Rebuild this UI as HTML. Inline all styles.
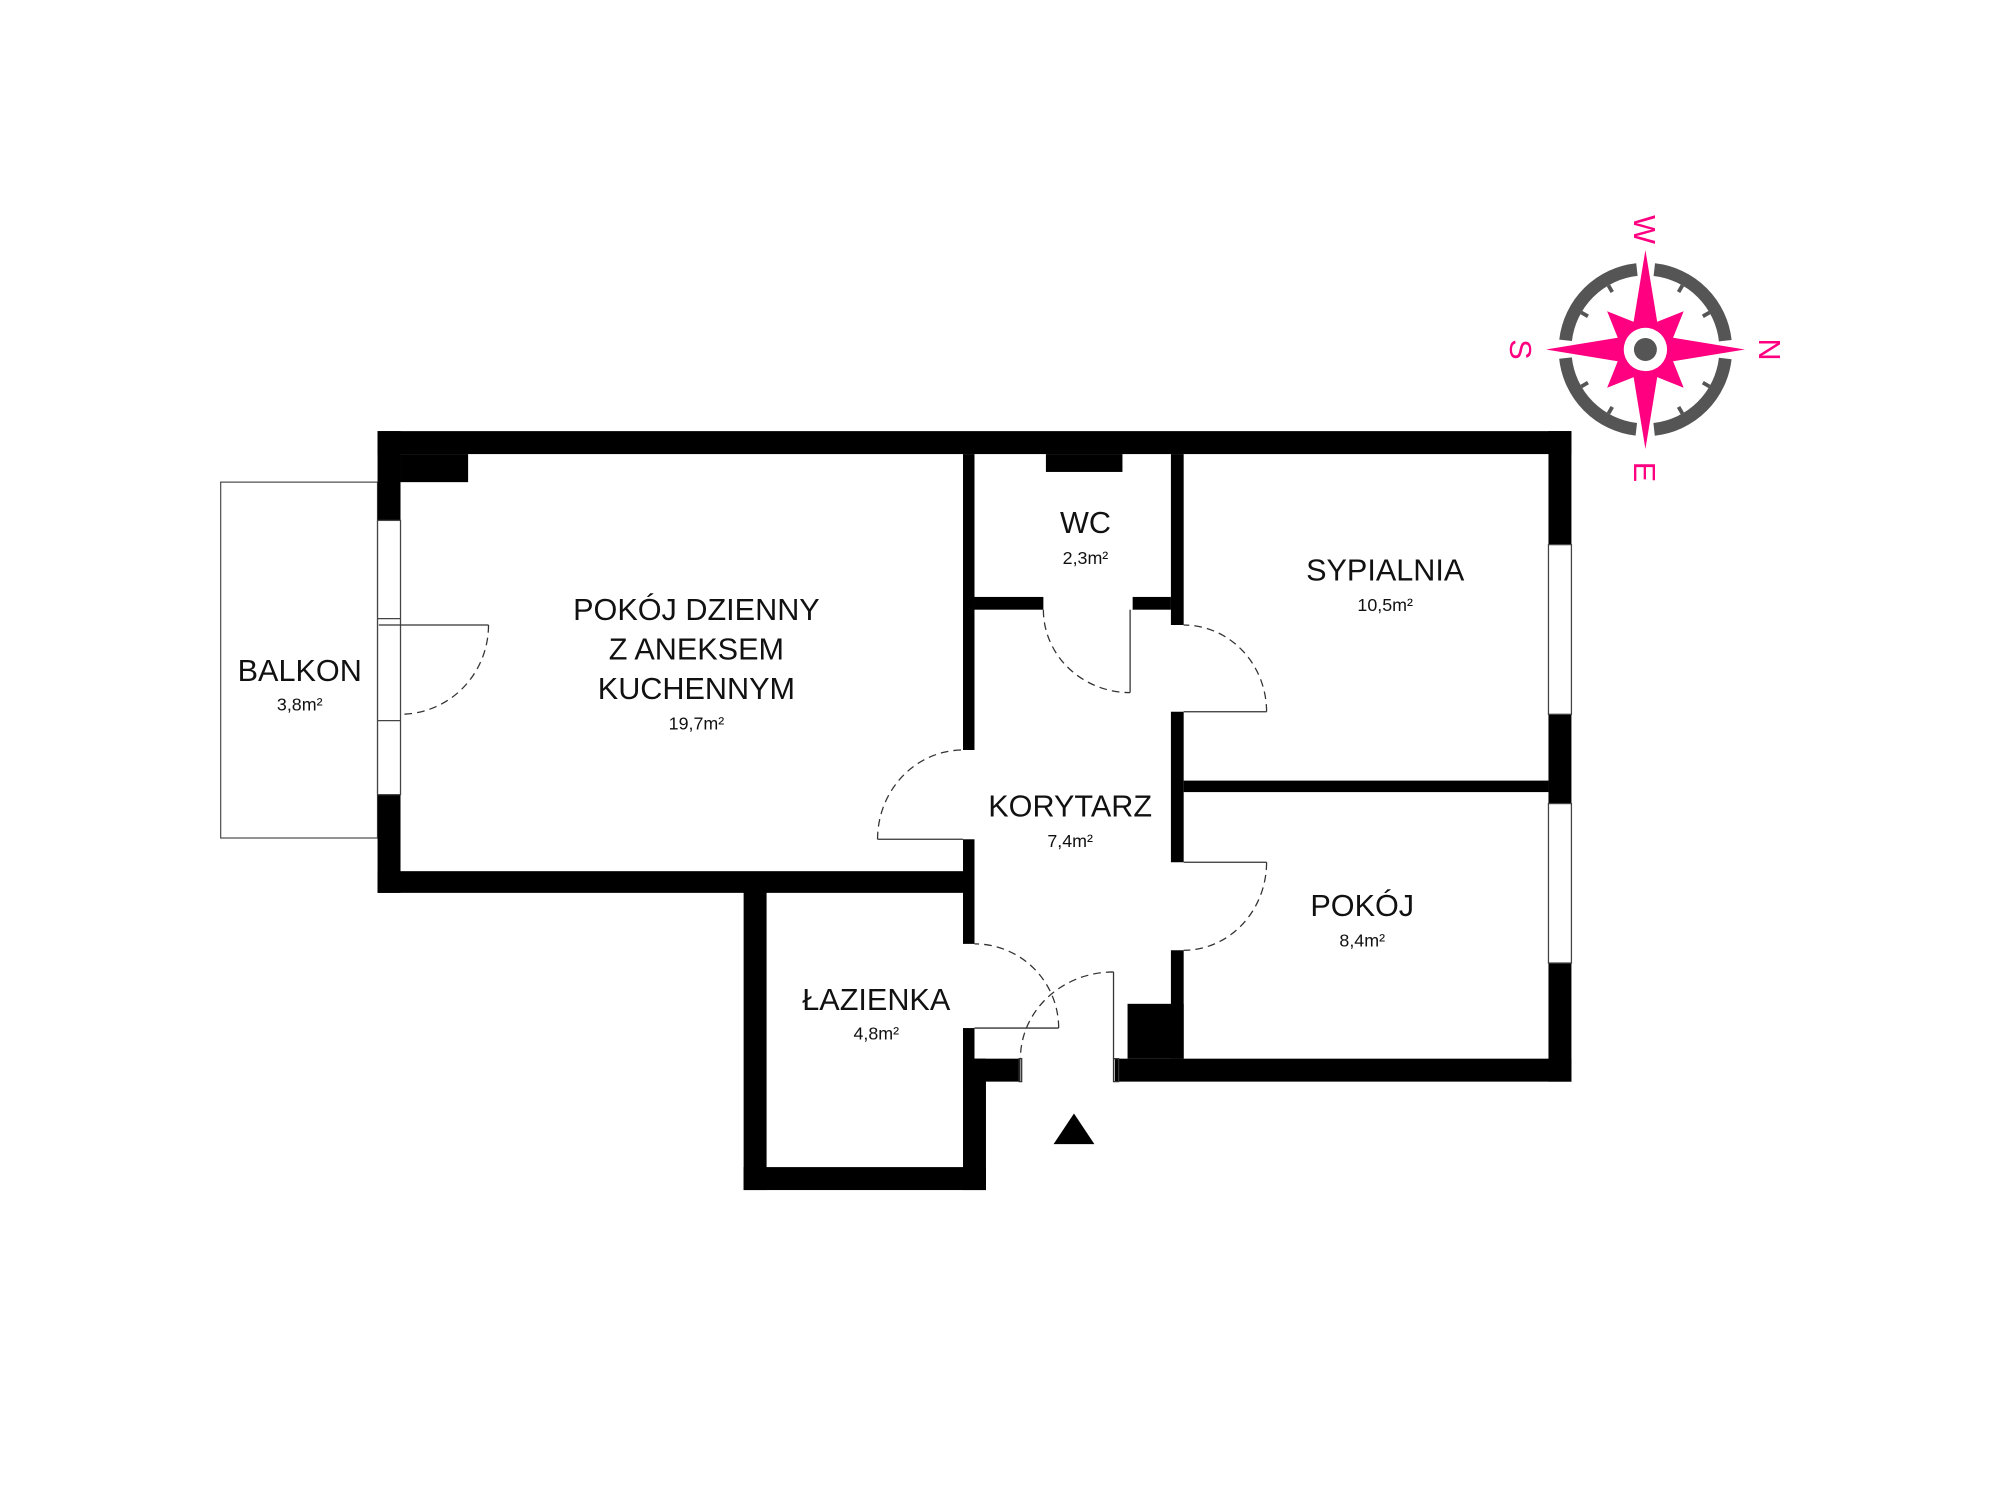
<!DOCTYPE html>
<html><head><meta charset="utf-8"><style>
html,body{margin:0;padding:0;background:#fff;}
svg{display:block}
text{font-family:"Liberation Sans",sans-serif;fill:#111;}
</style></head><body>
<svg width="2000" height="1500" viewBox="0 0 1568 1176" xmlns="http://www.w3.org/2000/svg">
<rect width="1568" height="1176" fill="#fff"/>
<rect x="173" y="378" width="123" height="279" fill="none" stroke="#555" stroke-width="1"/>
<g fill="#000">
<rect x="296" y="338" width="936" height="18"/>
<rect x="314" y="356" width="53" height="22"/>
<rect x="296" y="338" width="18" height="70"/>
<rect x="296" y="623" width="18" height="77"/>
<rect x="296" y="683" width="468" height="17"/>
<rect x="1214" y="338" width="18" height="89"/>
<rect x="1214" y="560" width="18" height="70"/>
<rect x="1214" y="755" width="18" height="93"/>
<rect x="874" y="830" width="358" height="18"/>
<rect x="884" y="787" width="44" height="43"/>
<rect x="583" y="692" width="18" height="241"/>
<rect x="583" y="915" width="190" height="18"/>
<rect x="755" y="830" width="18" height="103"/>
<rect x="764" y="830" width="36" height="18"/>
<rect x="755" y="356" width="9" height="232"/>
<rect x="755" y="658" width="9" height="82"/>
<rect x="755" y="806" width="9" height="42"/>
<rect x="820" y="356" width="60" height="14"/>
<rect x="764" y="468" width="54" height="10"/>
<rect x="888" y="468" width="30" height="10"/>
<rect x="918" y="356" width="10" height="134"/>
<rect x="918" y="558" width="10" height="118"/>
<rect x="918" y="745" width="10" height="85"/>
<rect x="928" y="612" width="286" height="9"/>
</g>
<g fill="#fff" stroke="#444" stroke-width="1">
<rect x="296" y="408" width="18" height="215"/>
<rect x="1214" y="427" width="18" height="133"/>
<rect x="1214" y="630" width="18" height="125"/>
</g>
<line x1="296" y1="485" x2="314" y2="485" stroke="#444"/>
<line x1="296" y1="565" x2="314" y2="565" stroke="#444"/>
<g fill="none" stroke="#333" stroke-width="1">
<line x1="297" y1="490" x2="383" y2="490"/>
<line x1="688" y1="658" x2="755" y2="658"/>
<line x1="928" y1="558" x2="993" y2="558"/>
<line x1="928" y1="676" x2="993" y2="676"/>
<line x1="764" y1="806" x2="830" y2="806"/>
<line x1="886" y1="478" x2="886" y2="543"/>
<line x1="873" y1="762" x2="873" y2="830"/>
<rect x="799" y="830" width="2" height="18"/><rect x="873" y="830" width="4" height="18"/>
</g>
<g fill="none" stroke="#333" stroke-width="1" stroke-dasharray="6,4">
<path d="M383 490 A69 70 0 0 1 314 560"/>
<path d="M688 658 A67 70 0 0 1 755 588"/>
<path d="M993 558 A65 68 0 0 0 928 490"/>
<path d="M993 676 A65 69 0 0 1 928 745"/>
<path d="M830 806 A66 66 0 0 0 764 740"/>
<path d="M818 478 A68 65 0 0 0 886 543"/>
<path d="M873 762 A73 68 0 0 0 800 830"/>
</g>
<polygon points="842,873 826,897 858,897" fill="#000"/>
<g text-anchor="middle">
<text x="235" y="534" font-size="24">BALKON</text>
<text x="235" y="557" font-size="14">3,8m²</text>
<text x="546" y="486" font-size="24">POKÓJ DZIENNY</text>
<text x="546" y="517" font-size="24">Z ANEKSEM</text>
<text x="546" y="548" font-size="24">KUCHENNYM</text>
<text x="546" y="572" font-size="14">19,7m²</text>
<text x="851" y="418" font-size="24">WC</text>
<text x="851" y="442" font-size="14">2,3m²</text>
<text x="1086" y="455" font-size="24">SYPIALNIA</text>
<text x="1086" y="479" font-size="14">10,5m²</text>
<text x="839" y="640" font-size="24">KORYTARZ</text>
<text x="839" y="664" font-size="14">7,4m²</text>
<text x="1068" y="718" font-size="24">POKÓJ</text>
<text x="1068" y="742" font-size="14">8,4m²</text>
<text x="687" y="792" font-size="24">ŁAZIENKA</text>
<text x="687" y="815" font-size="14">4,8m²</text>
</g>
<g transform="translate(1290,274)">
<circle r="63" fill="none" stroke="#555" stroke-width="10" stroke-dasharray="85,14" stroke-dashoffset="92" transform="rotate(-90)"/>
<g stroke="#555" stroke-width="3">
<line x1="0" y1="-58" x2="0" y2="-52" transform="rotate(30)"/>
<line x1="0" y1="-58" x2="0" y2="-52" transform="rotate(60)"/>
<line x1="0" y1="-58" x2="0" y2="-52" transform="rotate(120)"/>
<line x1="0" y1="-58" x2="0" y2="-52" transform="rotate(150)"/>
<line x1="0" y1="-58" x2="0" y2="-52" transform="rotate(210)"/>
<line x1="0" y1="-58" x2="0" y2="-52" transform="rotate(240)"/>
<line x1="0" y1="-58" x2="0" y2="-52" transform="rotate(300)"/>
<line x1="0" y1="-58" x2="0" y2="-52" transform="rotate(330)"/>
</g>
<g fill="#ff0080">
<polygon points="0,-78 11,-11 78,0 11,11 0,78 -11,11 -78,0 -11,-11"/>
<polygon points="0,-18 -30,-30 -18,0 -30,30 0,18 30,30 18,0 30,-30" />
</g>
<circle r="17" fill="#fff"/>
<circle r="9" fill="#555"/>
</g>
<g font-size="24" text-anchor="middle">
<text transform="translate(1281,180) rotate(90)" style="fill:#ff0080">W</text>
<text transform="translate(1379,274) rotate(90)" style="fill:#ff0080">N</text>
<text transform="translate(1281,370) rotate(90)" style="fill:#ff0080">E</text>
<text transform="translate(1184,274) rotate(90)" style="fill:#ff0080">S</text>
</g>
</svg>
</body></html>
